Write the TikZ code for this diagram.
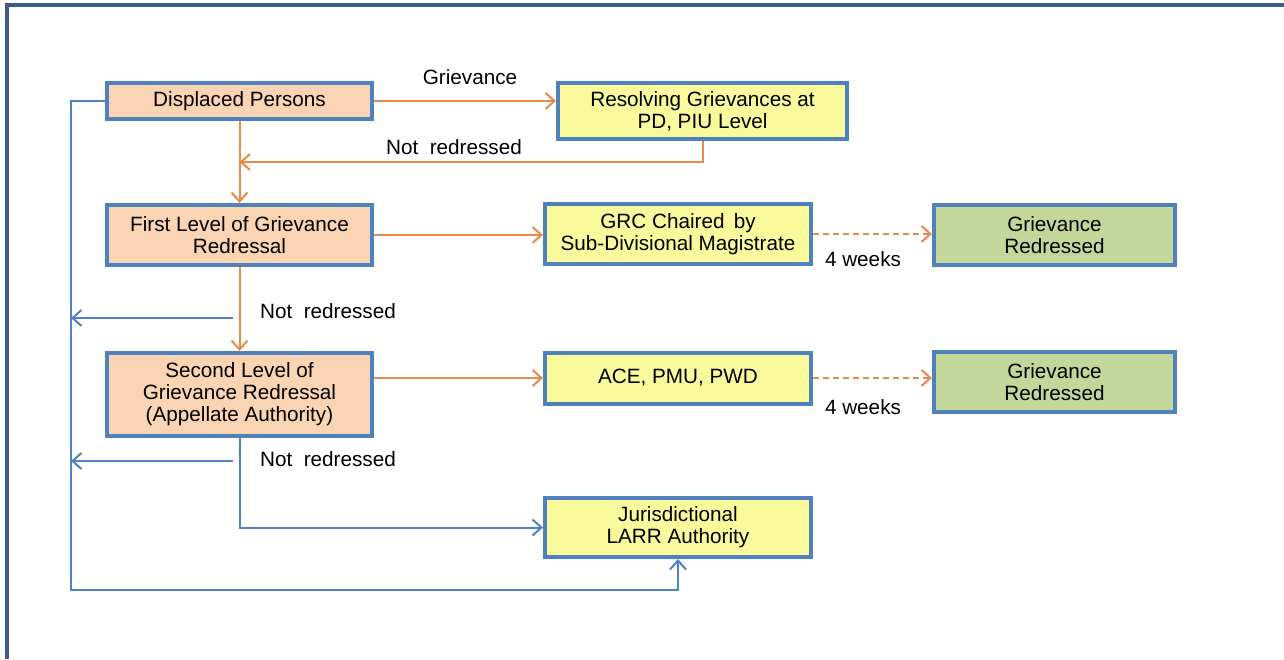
\documentclass[tikz,border=0pt]{standalone}
\usepackage{fontspec}
\setmainfont{Liberation Sans}
\usetikzlibrary{arrows.meta}
\definecolor{bordblue}{HTML}{4F81BD}
\definecolor{frameblue}{HTML}{3C5A8C}
\definecolor{peach}{HTML}{FBD4B4}
\definecolor{paleyellow}{HTML}{FAFA9C}
\definecolor{palegreen}{HTML}{C4D79B}
\definecolor{lineorange}{HTML}{E58A4A}
\tikzset{
  box/.style={draw=bordblue, line width=4pt, rectangle, align=center, inner sep=0pt, font=\fontsize{20.7}{22}\selectfont},
  peachbox/.style={box, fill=peach},
  yellowbox/.style={box, fill=paleyellow},
  greenbox/.style={box, fill=palegreen},
  oarr/.style={draw=lineorange, line width=2pt, -{Straight Barb[length=9pt,width=16pt]}},
  dashoarr/.style={oarr, dash pattern=on 6pt off 4pt},
  barr/.style={draw=bordblue, line width=2pt, -{Straight Barb[length=9pt,width=16pt]}},
  lbl/.style={font=\fontsize{20.7}{22}\selectfont, inner sep=0pt}
}
\begin{document}
\begin{tikzpicture}[x=1pt,y=-1pt]
\useasboundingbox (0,0) rectangle (1284,659);
\fill[white] (0,0) rectangle (1284,659);
% frame
\draw[frameblue, line width=4pt] (7,659) -- (7,5) -- (1284,5);

% nodes
\node[peachbox, minimum width=265pt, minimum height=36pt] (DP) at (239.5,101) {\vphantom{Ag}Displaced Persons};
\node[yellowbox, minimum width=289pt, minimum height=56pt] (Res) at (702.5,111) {Resolving Grievances at\\PD, PIU Level};
\node[peachbox, minimum width=265pt, minimum height=60pt] (FL) at (239.5,235) {First Level of Grievance\\Redressal};
\node[yellowbox, minimum width=266pt, minimum height=60pt] (GRC) at (678,234) {GRC Chaired\, by\\Sub-Divisional Magistrate};
\node[greenbox, minimum width=241pt, minimum height=60pt] (GR1) at (1054.5,235) {Grievance\\Redressed};
\node[peachbox, minimum width=265pt, minimum height=83pt] (SL) at (239.5,394.5) {Second Level of\\Grievance Redressal\\(Appellate Authority)};
\node[yellowbox, minimum width=266pt, minimum height=51pt] (ACE) at (678,378) {ACE, PMU, PWD};
\node[greenbox, minimum width=241pt, minimum height=60pt] (GR2) at (1054.5,382) {Grievance\\Redressed};
\node[yellowbox, minimum width=266pt, minimum height=59pt] (J) at (678,527.5) {Jurisdictional\\LARR Authority};

% labels
\node[lbl] (lg) at (470,77) {Grievance};
\node[lbl] (ln1) at (454,147) {Not\ \ redressed};
\node[lbl] (ln2) at (328,311) {Not\ \ redressed};
\node[lbl] (ln3) at (328,459) {Not\ \ redressed};
\node[lbl] (w1) at (863,259) {4 weeks};
\node[lbl] (w2) at (863,407) {4 weeks};

% coordinates
\coordinate (m1) at (239.5,162);
\coordinate (b1) at (233,318);
\coordinate (L1) at (71,318);
\coordinate (b2) at (233,461);
\coordinate (L2) at (71,461);
\coordinate (top) at (71,101);
\coordinate (c1) at (71,590);

% orange connectors
\draw[oarr] (DP.east) -- (DP.east -| Res.west);
\draw[oarr] (Res.south) |- (m1);
\draw[oarr] (DP.south) -- (FL.north);
\draw[oarr] (FL.east) -- (FL.east -| GRC.west);
\draw[dashoarr] (GRC.east) -- (GRC.east -| GR1.west);
\draw[oarr] (FL.south) -- (SL.north);
\draw[oarr] (SL.east |- ACE.west) -- (ACE.west);
\draw[dashoarr] (ACE.east) -- (ACE.east -| GR2.west);

% blue connectors
\draw[barr] (b1) -- (L1);
\draw[barr] (b2) -- (L2);
\draw[barr] (DP.west) -- (top) -- (c1) -| (J.south);
\draw[barr] (SL.south) |- (J.west);
\end{tikzpicture}
\end{document}
